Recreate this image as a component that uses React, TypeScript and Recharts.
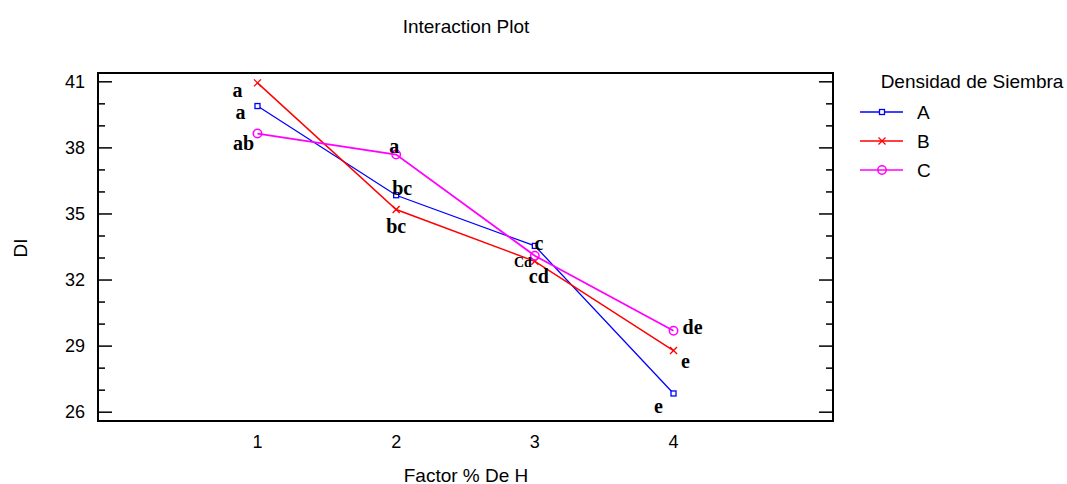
import React from 'react';
import { LineChart, Line, XAxis, YAxis, Legend, ReferenceArea } from 'recharts';

const factors = [1, 2, 3, 4];
const densidadA = [39.9, 35.85, 33.55, 26.85];
const densidadB = [40.95, 35.2, 32.85, 28.8];
const densidadC = [38.65, 37.7, 33.1, 29.7];
const lettersA = ['a', 'bc', 'c', 'e'];
const lettersB = ['a', 'bc', 'cd', 'e'];
const lettersC = ['ab', 'a', 'Cd', 'de'];
const yTicks = [26, 27, 28, 29, 30, 31, 32, 33, 34, 35, 36, 37, 38, 39, 40, 41];
const majorYTicks = [26, 29, 32, 35, 38, 41];
const xTicks = [1, 2, 3, 4];
const xDomain = [-0.15, 5.15];
const yDomain = [25.6, 41.4];

const data = factors.map((f, i) => ({
  factor: f,
  A: densidadA[i],
  B: densidadB[i],
  C: densidadC[i],
}));

const W = 1067;
const H = 484;
const PLOT_LEFT = 98;
const PLOT_RIGHT = 833;
const FONT = '"Liberation Sans", Arial, sans-serif';
const SERIF = '"Liberation Serif", "Times New Roman", serif';

// letter offsets from each point (dx, dy)
const labelOffsets: Record<string, number[][]> = {
  A: [[-17, 6], [6, -7], [4, -3], [-15, 13]],
  B: [[-20, 7], [0, 16], [4, 15], [12, 10]],
  C: [[-14, 9], [-2, -8], [-12, 7], [19, -4]],
};
const letters: Record<string, string[]> = { A: lettersA, B: lettersB, C: lettersC };
const colors: Record<string, string> = { A: '#0000ff', B: '#ff0000', C: '#ff00ff' };

function Marker({ name, cx, cy }: { name: string; cx: number; cy: number }) {
  const c = colors[name];
  if (name === 'A') {
    return <rect x={cx - 2.5} y={cy - 2.5} width={5} height={5} fill="#fff" stroke={c} strokeWidth={1.3} />;
  }
  if (name === 'B') {
    return (
      <g stroke={c} strokeWidth={1.3}>
        <line x1={cx - 3.5} y1={cy - 3.5} x2={cx + 3.5} y2={cy + 3.5} />
        <line x1={cx - 3.5} y1={cy + 3.5} x2={cx + 3.5} y2={cy - 3.5} />
      </g>
    );
  }
  return <circle cx={cx} cy={cy} r={4.2} fill="none" stroke={c} strokeWidth={1.5} />;
}

const makeDot = (name: string) => (props: any) => {
  const { cx, cy, index } = props;
  const [dx, dy] = labelOffsets[name][index];
  const txt = letters[name][index];
  const small = txt === 'Cd';
  return (
    <g key={`${name}-${index}`}>
      <Marker name={name} cx={cx} cy={cy} />
      <text
        x={cx + dx}
        y={cy + dy}
        textAnchor="middle"
        dominantBaseline="central"
        fontFamily={SERIF}
        fontWeight="bold"
        fontSize={small ? 14 : 20}
        fill="#000"
      >
        {txt}
      </text>
    </g>
  );
};

const YTick = (props: any) => {
  const { x, y, payload } = props;
  const v = payload.value;
  const major = majorYTicks.includes(v);
  const len = major ? 14 : 7;
  return (
    <g>
      {major && (
        <text x={x} y={y} textAnchor="end" dominantBaseline="central" fontSize={18} fontFamily={FONT} fill="#000">
          {v}
        </text>
      )}
      <line x1={PLOT_LEFT} x2={PLOT_LEFT + len} y1={y} y2={y} stroke="#000" strokeWidth={1.5} />
      <line x1={PLOT_RIGHT - len} x2={PLOT_RIGHT} y1={y} y2={y} stroke="#000" strokeWidth={1.5} />
    </g>
  );
};

const renderLegend = (props: any) => {
  const payload = (props.payload || []).filter((e: any) => colors[e.value]);
  return (
    <svg width={227} height={130} style={{ fontFamily: FONT }}>
      <text x={132} y={21} textAnchor="middle" dominantBaseline="central" fontSize={19} fill="#000">
        Densidad de Siembra
      </text>
      {payload.map((entry: any, i: number) => {
        const y = 52 + i * 29;
        const name = entry.value;
        return (
          <g key={name}>
            <line x1={20} x2={63} y1={y} y2={y} stroke={colors[name]} strokeWidth={1.5} />
            <Marker name={name} cx={42} cy={y} />
            <text x={77} y={y} dominantBaseline="central" fontSize={19} fill="#000">
              {name}
            </text>
          </g>
        );
      })}
    </svg>
  );
};

export default function App() {
  return (
    <div style={{ position: 'absolute', left: 0, top: 0, width: W, height: H, background: '#fff', fontFamily: FONT }}>
      <LineChart
        width={W}
        height={H}
        data={data}
        margin={{ top: 73, right: 234, bottom: 0, left: 28 }}
        style={{ fontFamily: FONT }}
      >
        <XAxis
          dataKey="factor"
          type="number"
          domain={xDomain}
          ticks={xTicks}
          allowDataOverflow
          height={63}
          tickLine={false}
          tickSize={0}
          tickMargin={14}
          axisLine={false}
          tick={{ fill: '#000', fontSize: 18 }}
        />
        <YAxis
          type="number"
          domain={yDomain}
          ticks={yTicks}
          interval={0}
          allowDataOverflow
          width={70}
          tickLine={false}
          tickSize={0}
          tickMargin={13}
          axisLine={false}
          tick={<YTick />}
        />
        <ReferenceArea
          x1={xDomain[0]}
          x2={xDomain[1]}
          y1={yDomain[0]}
          y2={yDomain[1]}
          fill="none"
          fillOpacity={0}
          stroke="#000"
          strokeWidth={2}
          strokeOpacity={1}
          ifOverflow="visible"
        />
        <Legend
          layout="horizontal"
          align="center"
          verticalAlign="middle"
          wrapperStyle={{ left: 840, top: 60, width: 227, height: 130 }}
          content={renderLegend}
        />
        <Line dataKey="A" name="A" stroke={colors.A} strokeWidth={1.3} dot={makeDot('A')} activeDot={false} isAnimationActive={false} />
        <Line dataKey="B" name="B" stroke={colors.B} strokeWidth={1.5} dot={makeDot('B')} activeDot={false} isAnimationActive={false} />
        <Line dataKey="C" name="C" stroke={colors.C} strokeWidth={1.8} dot={makeDot('C')} activeDot={false} isAnimationActive={false} />
      </LineChart>
      <div style={{ position: 'absolute', left: 466, top: 26, transform: 'translate(-50%, -50%)', fontSize: 19, lineHeight: 1, whiteSpace: 'nowrap' }}>
        Interaction Plot
      </div>
      <div style={{ position: 'absolute', left: 466, top: 475, transform: 'translate(-50%, -50%)', fontSize: 19, lineHeight: 1, whiteSpace: 'nowrap' }}>
        Factor % De H
      </div>
      <div style={{ position: 'absolute', left: 20, top: 248, transform: 'translate(-50%, -50%) rotate(-90deg)', fontSize: 19, lineHeight: 1, whiteSpace: 'nowrap' }}>
        DI
      </div>
    </div>
  );
}
